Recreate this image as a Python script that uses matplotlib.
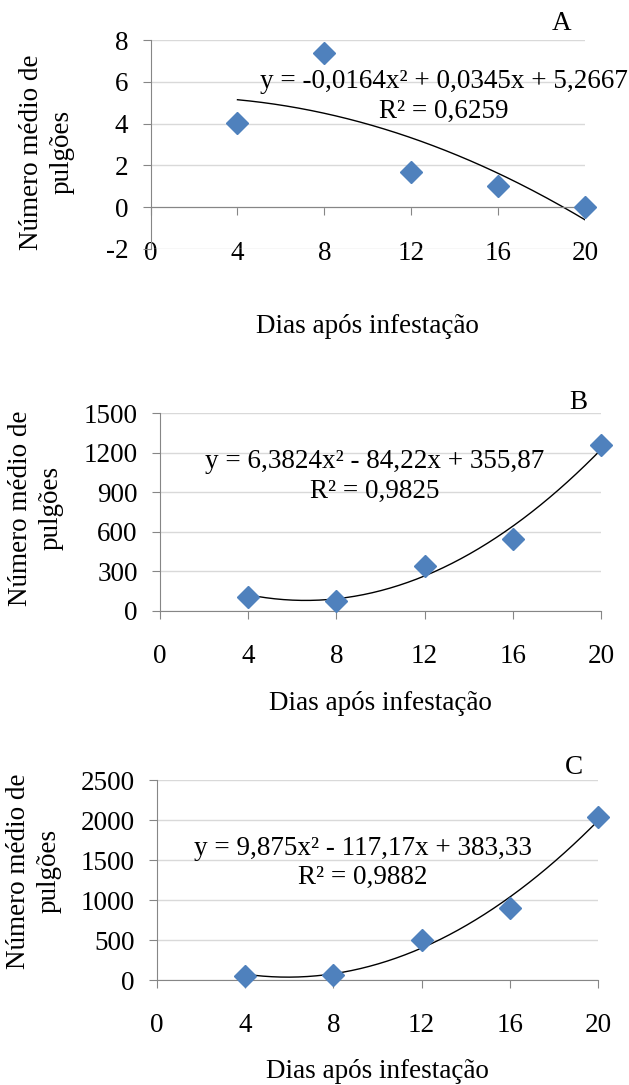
""" Número médio de pulgões em função dos dias após infestação (A, B, C)
"""
import matplotlib.pyplot as plt
import numpy as np

plt.rcParams['font.family'] = ['Liberation Serif', 'DejaVu Serif']
plt.rcParams['axes.unicode_minus'] = False

# Dados
dias = [4, 8, 12, 16, 20]
pulgoes_a = [4.02, 7.37, 1.67, 1.02, 0.0]
pulgoes_b = [106, 76, 340, 542, 1259]
pulgoes_c = [50, 58, 500, 896, 2042]

# Coeficientes das linhas de tendência (polinomial de 2a ordem)
coef_a = [-0.0164, 0.0345, 5.2667]
coef_b = [6.3824, -84.22, 355.87]
coef_c = [9.875, -117.17, 383.33]

eq_a = "y = -0,0164x² + 0,0345x + 5,2667\nR² = 0,6259"
eq_b = "y = 6,3824x² - 84,22x + 355,87\nR² = 0,9825"
eq_c = "y = 9,875x² - 117,17x + 383,33\nR² = 0,9882"

yticks_a = [-2, 0, 2, 4, 6, 8]
yticks_b = [0, 300, 600, 900, 1200, 1500]
yticks_c = [0, 500, 1000, 1500, 2000, 2500]
xticks = [0, 4, 8, 12, 16, 20]

W, H = 629, 1085
fig = plt.figure(figsize=(W / 100, H / 100), dpi=100)

FS = 19.5
AXIS = "#868686"
GRID = "#D9D9D9"
BLUE = "#4F81BD"


def painel(rect, y, coef, eq, yticks, letra, eq_pos, ylab_pos, xlab_y, letra_pos):
	""" Desenha um painel
	"""
	l, t, r, b = rect
	ax = fig.add_axes([l / W, 1 - b / H, (r - l) / W, (b - t) / H])
	ax.set_xlim(0, 20)
	ax.set_ylim(yticks[0], yticks[-1])
	ax.set_yticks(yticks)
	ax.set_xticks(xticks)
	ax.yaxis.grid(True, color=GRID, lw=1)
	ax.set_axisbelow(True)
	for s in ["top", "right"]:
		ax.spines[s].set_visible(False)
	ax.spines["left"].set_color(AXIS)
	ax.spines["bottom"].set_color(AXIS)
	ax.spines["bottom"].set_position(("data", 0))
	ax.tick_params(axis="y", direction="out", length=6, color=AXIS,
				   labelsize=FS, pad=10)
	ax.tick_params(axis="x", direction="out", length=6, color=AXIS,
				   labelsize=FS, pad=18)

	# linha de tendência
	xs = np.linspace(4, 20, 200)
	ax.plot(xs, np.polyval(coef, xs), color="black", lw=1)
	ax.plot(dias, y, "D", color=BLUE, markersize=11, markeredgecolor=BLUE,
			zorder=3, clip_on=False)

	ax.text(eq_pos[0], eq_pos[1], eq, transform=ax.transAxes, ha="center",
			va="center", fontsize=FS, linespacing=1.25, multialignment="center")
	ax.text(ylab_pos[0], ylab_pos[1], "Número médio de\npulgões",
			transform=ax.transAxes, rotation=90, ha="center", va="center",
			fontsize=FS, linespacing=1.3, multialignment="center")
	ax.text(0.5, xlab_y, "Dias após infestação", transform=ax.transAxes,
			ha="center", va="center", fontsize=FS)
	ax.text(letra_pos[0], letra_pos[1], letra, transform=ax.transAxes,
			ha="center", va="center", fontsize=FS)
	return ax


painel((150.6, 40, 585, 249), pulgoes_a, coef_a, eq_a, yticks_a, "A",
	   (0.675, 0.73), (-0.2385, 0.464), -0.373, (0.947, 1.081))
painel((160, 413.3, 601, 610.7), pulgoes_b, coef_b, eq_b, yticks_b, "B",
	   (0.4875, 0.682), (-0.2823, 0.52), -0.468, (0.948, 1.057))
painel((157, 780, 598, 980), pulgoes_c, coef_c, eq_c, yticks_c, "C",
	   (0.467, 0.585), (-0.280, 0.545), -0.46, (0.946, 1.065))

fig.savefig("out.png", dpi=100)
